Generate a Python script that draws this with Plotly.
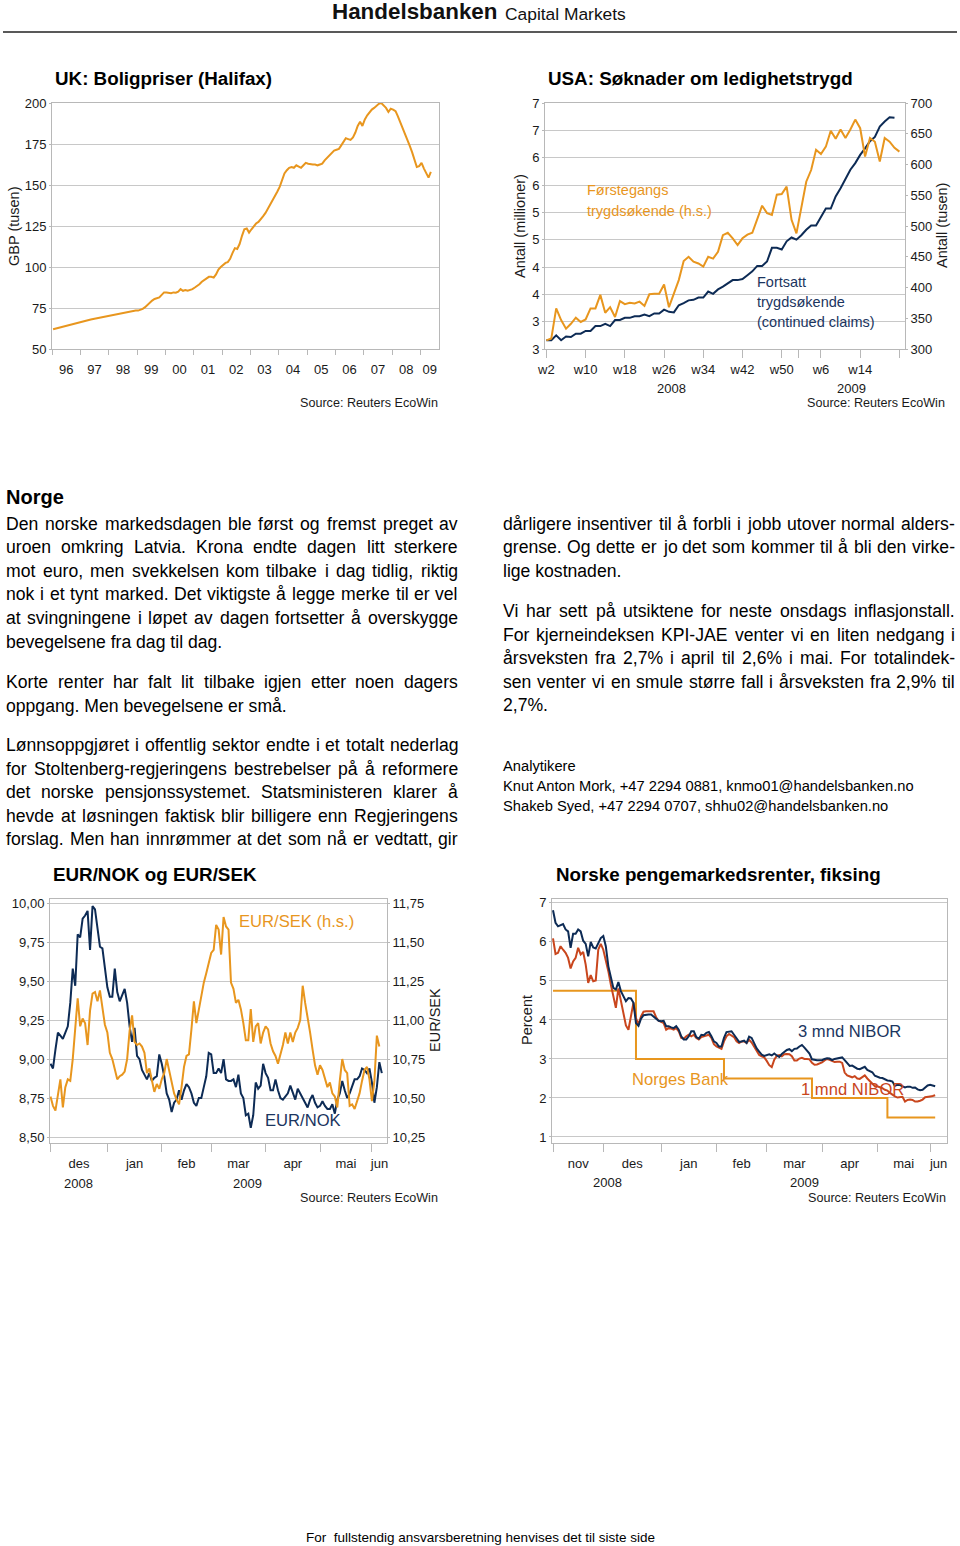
import pandas as pd
import plotly.graph_objects as go

W, H = 960, 1546

# ---------------- data ----------------
UK_FIRST_MONTH = "1996-01-01"
UK_PRICES = [
    62.0, 62.4, 62.8, 63.3, 63.7, 64.0, 64.3, 64.6, 65.0, 65.4, 65.9, 66.4,
    66.6, 66.9, 67.3, 67.7, 68.0, 68.3, 68.6, 68.8, 69.0, 69.2, 69.5, 69.8,
    70.0, 70.3, 70.6, 71.0, 71.4, 71.8, 72.1, 72.4, 72.7, 73.0, 73.2, 73.4,
    73.4, 73.8, 74.5, 75.5, 77.0, 78.5, 79.5, 80.5, 81.0, 81.5, 83.0, 84.5,
    84.5, 84.0, 84.0, 84.5, 84.3, 85.0, 86.5, 85.5, 86.0, 85.5, 86.0, 86.5,
    87.5, 88.5, 89.5, 91.0, 92.0, 93.0, 94.0, 94.0, 93.5, 95.5, 98.5, 100.0,
    101.5, 102.5, 103.0, 105.0, 108.5, 111.5, 111.0, 114.0, 119.0, 123.0, 123.5, 121.0,
    123.0, 125.0, 126.5, 127.5, 129.0, 131.0, 133.0, 135.5, 138.5, 141.0, 143.5, 146.0,
    149.0, 153.0, 157.0, 159.0, 160.5, 161.0, 160.5, 162.0, 161.0, 160.5, 162.0, 163.5,
    163.0, 162.5, 162.5, 162.5, 162.0, 162.5, 163.0, 165.0, 166.5, 167.5, 169.0, 171.0,
    171.5, 172.0, 174.0, 176.5, 178.5, 178.0, 177.5, 179.0, 182.0, 186.0, 188.5, 186.0,
    190.0, 192.5, 194.5, 196.0, 197.0, 198.5, 199.5, 200.0, 198.5, 197.0, 194.5, 196.5,
    196.0, 195.0, 192.0, 188.5, 185.0, 181.5, 178.0, 174.0, 170.0, 165.0, 161.0, 161.5,
    163.5, 160.0, 157.0, 154.5, 158.0,
]
UK_YEAR_LABELS = ["96", "97", "98", "99", "00", "01", "02", "03", "04", "05", "06", "07", "08", "09"]
UK_Y_TICKS = [50, 75, 100, 125, 150, 175, 200]

US_FIRST_WEEK = "2008-01-07"  # week 2, 2008
US_CONTINUED = [  # millions (left axis)
    2.66, 2.66, 2.75, 2.66, 2.73, 2.72, 2.78, 2.78, 2.83, 2.83,
    2.92, 2.92, 2.96, 2.92, 3.03, 3.03, 3.07, 3.07, 3.10, 3.10,
    3.13, 3.10, 3.15, 3.15, 3.22, 3.18, 3.17, 3.30, 3.34, 3.39,
    3.40, 3.44, 3.44, 3.55, 3.51, 3.59, 3.64, 3.70, 3.76, 3.76,
    3.78, 3.85, 3.92, 4.02, 4.02, 4.10, 4.35, 4.35, 4.32, 4.47,
    4.54, 4.50, 4.58, 4.68, 4.76, 4.76, 4.92, 5.07, 5.07, 5.29,
    5.44, 5.62, 5.78, 5.90, 6.05, 6.17, 6.30, 6.38, 6.57, 6.66,
    6.74, 6.73,
]
US_INITIAL = [  # thousands (right axis)
    314, 317, 366, 347, 333, 341, 351, 344, 348, 366,
    366, 388, 359, 368, 352, 378, 373, 375, 374, 377,
    370, 389, 390, 390, 405, 368, 390, 412, 443, 450,
    442, 439, 434, 450, 447, 458, 485, 489, 480, 469,
    480, 486, 489, 510, 533, 521, 518, 551, 552, 564,
    510, 488, 529, 572, 591, 624, 617, 629, 655, 642,
    657, 643, 657, 673, 659, 613, 643, 637, 605, 643,
    637, 627, 621,
]
US_WEEK_LABELS = ["w2", "w10", "w18", "w26", "w34", "w42", "w50", "w6", "w14"]
US_LEFT_TICKS = [2.5, 3.0, 3.5, 4.0, 4.5, 5.0, 5.5, 6.0, 6.5, 7.0]
US_LEFT_TICKTEXT = ["3", "3", "4", "4", "5", "5", "6", "6", "7", "7"]
US_RIGHT_TICKS = [300, 350, 400, 450, 500, 550, 600, 650, 700]

FX_FIRST_DAY = "2008-12-01"
EURNOK = [
    8.97, 8.94, 9.06, 9.17, 9.15, 9.13, 9.17, 9.21, 9.36, 9.58,
    9.47, 9.80, 9.78, 9.90, 9.92, 9.95, 9.70, 9.98, 9.96, 9.84,
    9.72, 9.71, 9.57, 9.46, 9.40, 9.40, 9.58, 9.43, 9.37, 9.41,
    9.45, 9.36, 9.21, 9.11, 9.20, 9.02, 9.00, 8.93, 8.90, 8.87,
    8.91, 8.86, 8.88, 8.89, 9.03, 8.97, 8.89, 8.78, 8.74, 8.66,
    8.72, 8.74, 8.80, 8.74, 8.80, 8.84, 8.82, 8.78, 8.72, 8.70,
    8.75, 8.75, 8.82, 8.89, 9.04, 9.03, 8.91, 8.91, 8.94, 8.91,
    9.00, 8.87, 8.86, 8.86, 8.87, 8.82, 8.90, 8.78, 8.75, 8.64,
    8.65, 8.56, 8.64, 8.85, 8.81, 8.83, 8.97, 8.91, 8.88, 8.80,
    8.80, 8.87, 8.80, 8.75, 8.74, 8.76, 8.78, 8.83, 8.78, 8.74,
    8.81, 8.78, 8.75, 8.71, 8.69, 8.74, 8.77, 8.72, 8.69, 8.70,
    8.73, 8.70, 8.68, 8.68, 8.71, 8.65, 8.74, 8.78, 8.86, 8.80,
    8.75, 8.78, 8.82, 8.87, 8.87, 8.89, 8.94, 8.93, 8.91, 8.94,
    8.85, 8.72, 8.82, 8.98, 8.91,
]
EURSEK = [
    10.51, 10.45, 10.42, 10.53, 10.62, 10.44, 10.57, 10.62, 10.61, 10.75,
    10.94, 11.14, 10.96, 11.01, 10.98, 10.84, 11.06, 11.17, 11.18, 11.12,
    11.19, 11.09, 10.97, 10.92, 10.79, 10.75, 10.68, 10.62, 10.64, 10.65,
    10.67, 10.75, 10.93, 11.03, 10.86, 10.84, 10.85, 10.83, 10.79, 10.66,
    10.69, 10.61, 10.54, 10.59, 10.56, 10.62, 10.66, 10.75, 10.68, 10.61,
    10.53, 10.49, 10.46, 10.57, 10.70, 10.77, 10.78, 10.94, 11.12, 10.98,
    11.07, 11.17, 11.24, 11.30, 11.37, 11.43, 11.45, 11.61, 11.58, 11.42,
    11.66, 11.60, 11.58, 11.24, 11.20, 11.11, 11.13, 11.07, 10.98, 10.87,
    10.87, 11.07, 10.86, 10.96, 10.98, 10.85, 10.92, 10.96, 10.94, 10.85,
    10.80, 10.77, 10.72, 10.78, 10.84, 10.92, 10.85, 10.92, 10.86, 10.92,
    10.95, 11.00, 11.22, 11.11, 11.02, 10.92, 10.81, 10.71, 10.65, 10.71,
    10.68, 10.62, 10.57, 10.60, 10.53, 10.51, 10.44, 10.61, 10.75, 10.68,
    10.66, 10.45, 10.46, 10.43, 10.48, 10.53, 10.61, 10.68, 10.70, 10.62,
    10.48, 10.61, 10.90, 10.83,
]
FX_MONTH_LABELS = ["des", "jan", "feb", "mar", "apr", "mai", "jun"]
FX_YEAR_LABELS = ["2008", "2009"]
EURNOK_TICKS = [8.50, 8.75, 9.00, 9.25, 9.50, 9.75, 10.00]
EURSEK_TICKS = [10.25, 10.50, 10.75, 11.00, 11.25, 11.50, 11.75]

NIBOR_FIRST_DAY = "2008-11-03"
NIBOR_3M = [
    6.81, 6.49, 6.40, 6.43, 6.46, 6.32, 6.27, 5.85, 6.21, 6.21,
    6.32, 6.27, 6.03, 5.95, 5.63, 6.00, 5.86, 5.83, 5.97, 6.10,
    6.15, 5.89, 5.38, 5.08, 4.82, 4.78, 4.97, 4.74, 4.61, 4.48,
    4.56, 4.55, 4.44, 3.92, 3.85, 4.03, 4.12, 4.14, 4.14, 4.14,
    4.09, 4.05, 3.98, 3.97, 3.98, 3.84, 3.84, 3.81, 3.79, 3.84,
    3.75, 3.58, 3.50, 3.50, 3.58, 3.71, 3.71, 3.56, 3.52, 3.62,
    3.61, 3.67, 3.69, 3.58, 3.45, 3.41, 3.32, 3.32, 3.54, 3.69,
    3.71, 3.71, 3.62, 3.52, 3.44, 3.45, 3.47, 3.41,
    3.57, 3.54, 3.40, 3.27, 3.19, 3.11, 3.08, 3.10, 3.12, 3.09,
    3.14, 3.09, 3.05, 3.13, 3.19, 3.23, 3.25, 3.20, 3.26, 3.27,
    3.32, 3.36, 3.29, 3.22, 3.14, 2.99, 2.97, 2.97, 2.97, 2.97,
    3.00, 3.02, 3.01, 2.97, 3.00, 3.02, 3.03, 3.04, 2.97, 2.88,
    2.82, 2.83, 2.79, 2.75, 2.74, 2.78, 2.80, 2.72, 2.68, 2.66,
    2.57, 2.54, 2.52, 2.51, 2.47, 2.45, 2.44, 2.42, 2.31, 2.34,
    2.33, 2.30, 2.27, 2.29, 2.29, 2.26, 2.27, 2.22, 2.20, 2.21,
    2.26, 2.32, 2.34, 2.32, 2.30,
]
NIBOR_1M = [
    6.09, 5.69, 5.72, 5.89, 5.80, 5.72, 5.59, 5.32, 5.50, 5.59,
    5.85, 5.68, 5.74, 5.42, 4.95, 5.15, 4.99, 5.01, 5.80, 5.95,
    5.80, 5.55, 5.25, 4.91, 4.65, 4.31, 4.81, 4.47, 4.14, 3.86,
    3.75, 4.14, 4.44, 4.05, 3.88, 4.09, 4.21, 4.22, 4.22, 4.22,
    4.22, 4.07, 3.98, 3.95, 3.92, 3.75, 3.79, 3.78, 3.75, 3.79,
    3.71, 3.54, 3.52, 3.58, 3.62, 3.58, 3.62, 3.54, 3.50, 3.56,
    3.58, 3.58, 3.62, 3.54, 3.38, 3.32, 3.28, 3.26, 3.45, 3.58,
    3.64, 3.61, 3.56, 3.45, 3.41, 3.45, 3.45, 3.41,
    3.49, 3.42, 3.32, 3.20, 3.10, 3.07, 3.04, 2.95, 2.84, 2.79,
    2.98, 3.08, 3.10, 3.07, 3.12, 3.13, 3.12, 3.07, 2.96, 2.96,
    3.01, 3.03, 3.00, 3.00, 2.99, 2.90, 2.85, 2.86, 2.88, 2.91,
    2.96, 3.00, 2.98, 2.94, 2.92, 2.93, 2.93, 2.90, 2.65, 2.58,
    2.55, 2.53, 2.56, 2.50, 2.49, 2.53, 2.58, 2.50, 2.43, 2.35,
    2.30, 2.30, 2.28, 2.25, 2.21, 2.19, 2.13, 2.08, 2.04, 2.01,
    2.03, 2.03, 1.91, 1.95, 1.96, 1.95, 1.91, 1.91, 1.93, 1.96,
    2.02, 2.04, 2.04, 2.05, 2.07,
]
POLICY_DATES = ["2008-11-03", "2008-12-18", "2009-02-05", "2009-03-26", "2009-05-07"]
POLICY_RATES = [4.75, 3.00, 2.50, 2.00, 1.50]
NIBOR_MONTH_LABELS = ["nov", "des", "jan", "feb", "mar", "apr", "mai", "jun"]
NIBOR_YEAR_LABELS = ["2008", "2009"]
NIBOR_TICKS = [1, 2, 3, 4, 5, 6, 7]

LEFT_PARAS = [
    ["Den norske markedsdagen ble først og fremst preget av",
     "uroen omkring Latvia. Krona endte dagen litt sterkere",
     "mot euro, men svekkelsen kom tilbake i dag tidlig, riktig",
     "nok i et tynt marked. Det viktigste å legge merke til er vel",
     "at svingningene i løpet av dagen fortsetter å overskygge",
     "bevegelsene fra dag til dag."],
    ["Korte renter har falt lit tilbake igjen etter noen dagers",
     "oppgang. Men bevegelsene er små."],
    ["Lønnsoppgjøret i offentlig sektor endte i et totalt nederlag",
     "for Stoltenberg-regjeringens bestrebelser på å reformere",
     "det norske pensjonssystemet. Statsministeren klarer å",
     "hevde at løsningen faktisk blir billigere enn Regjeringens",
     "forslag. Men han innrømmer at det som nå er vedtatt, gir"],
]
LEFT_LAST_JUSTIFIED = [False, False, True]
RIGHT_PARAS = [
    ["dårligere insentiver til å forbli i jobb utover normal alders-",
     "grense. Og dette er jo det som kommer til å bli den virke-",
     "lige kostnaden."],
    ["Vi har sett på utsiktene for neste onsdags inflasjonstall.",
     "For kjerneindeksen KPI-JAE venter vi en liten nedgang i",
     "årsveksten fra 2,7% i april til 2,6% i mai. For totalindek-",
     "sen venter vi en smule større fall i årsveksten fra 2,9% til",
     "2,7%."],
]
RIGHT_LAST_JUSTIFIED = [False, False]
ANALYSTS = ["Analytikere",
            "Knut Anton Mork, +47 2294 0881, knmo01@handelsbanken.no",
            "Shakeb Syed, +47 2294 0707, shhu02@handelsbanken.no"]

# ---------------- style ----------------
ORANGE = "#E8961E"
NAVY = "#0D2B55"
RED = "#C9461D"
GRID = "#C8C8C8"
FRAME = "#B8B8B8"
TXT = "#1A1A1A"
LBL_NAVY = "#1B3560"
SANS = "Liberation Sans, Arial, Helvetica, sans-serif"

# Arial / Liberation Sans advance widths (1/1000 em) for text justification
_AFM = {" ": 278, ",": 278, ".": 278, "-": 333, "%": 889, ":": 278, "(": 333, ")": 333,
        "/": 278, "+": 584, "@": 1015, "å": 556, "ø": 611, "æ": 889, "Å": 667, "Ø": 778,
        "Æ": 1000, "é": 556}
for _c, _w in zip("abcdefghijklmnopqrstuvwxyz",
                  [556, 556, 500, 556, 556, 278, 556, 556, 222, 222, 500, 222, 833, 556, 556,
                   556, 556, 333, 500, 278, 556, 500, 722, 500, 500, 500]):
    _AFM[_c] = _w
for _c, _w in zip("ABCDEFGHIJKLMNOPQRSTUVWXYZ",
                  [667, 667, 722, 722, 667, 611, 778, 722, 278, 500, 667, 556, 833, 722, 778,
                   667, 778, 722, 667, 611, 722, 667, 944, 667, 667, 611]):
    _AFM[_c] = _w
for _c in "0123456789":
    _AFM[_c] = 556


def tw(s, fs):
    return sum(_AFM.get(c, 556) for c in s) * fs / 1000.0


def X(p):
    return p / W


def Y(p):
    return 1 - p / H


def period_centers(bounds, r0, r1):
    res = []
    for k, b in enumerate(bounds):
        s = max(b, r0)
        e = min(bounds[k + 1], r1) if k + 1 < len(bounds) else r1
        res.append(s + (e - s) / 2)
    return res


def ds(ts):
    return [pd.Timestamp(t).strftime("%Y-%m-%d %H:%M") for t in ts]


fig = go.Figure()
ann = []


def text(x, y, s, size, color="#000000", xanchor="left", angle=0, xref="paper", yref="paper"):
    ann.append(dict(x=X(x) if xref == "paper" else x, y=Y(y) if yref == "paper" else y,
                    xref=xref, yref=yref, text=s, showarrow=False, borderpad=0, borderwidth=0,
                    xanchor=xanchor, yanchor="middle", textangle=angle,
                    font=dict(size=size, family=SANS, color=color)))


def body_line(x0, x1, y, line, fs, justify):
    words = line.split(" ")
    if not justify or len(words) < 2:
        text(x0, y, line, fs)
        return
    total = sum(tw(w, fs) for w in words)
    gap = (x1 - x0 - total) / (len(words) - 1)
    x = x0
    for i, w in enumerate(words):
        if i == len(words) - 1:
            text(x1, y, w, fs, xanchor="right")
        else:
            text(x, y, w, fs)
        x += tw(w, fs) + gap


tickfont = dict(family=SANS, size=13, color=TXT)

# ---------------- chart 1: UK ----------------
uk_x = pd.date_range(UK_FIRST_MONTH, periods=len(UK_PRICES), freq="MS") + pd.Timedelta(days=14)
uk_r0, uk_r1 = pd.Timestamp("1996-01-01"), pd.Timestamp("2009-08-28")
uk_year_starts = list(pd.date_range("1996-01-01", "2009-01-01", freq="YS"))
uk_lab = period_centers(uk_year_starts, uk_r0, uk_r1)
fig.add_trace(go.Scatter(x=uk_x, y=UK_PRICES, mode="lines", line=dict(color=ORANGE, width=2),
                         xaxis="x", yaxis="y"))

# ---------------- chart 2: USA ----------------
us0 = pd.Timestamp(US_FIRST_WEEK)
us_xc = pd.date_range(us0, periods=len(US_CONTINUED), freq="7D")
us_xi = pd.date_range(us0, periods=len(US_INITIAL), freq="7D")
us_r0, us_r1 = us0 - pd.Timedelta(days=2), us0 + pd.Timedelta(days=512)
us_lab = [us0 + pd.Timedelta(days=56 * k) for k in range(len(US_WEEK_LABELS))]
us_ticks = us_lab + [pd.Timestamp("2009-01-01"), us0 + pd.Timedelta(days=56 * len(US_WEEK_LABELS))]
us_year_lab = period_centers([pd.Timestamp("2008-01-01"), pd.Timestamp("2009-01-01")], us_r0, us_r1)
fig.add_trace(go.Scatter(x=us_xc, y=US_CONTINUED, mode="lines", line=dict(color=NAVY, width=2),
                         xaxis="x2", yaxis="y2"))
fig.add_trace(go.Scatter(x=us_xi, y=US_INITIAL, mode="lines", line=dict(color=ORANGE, width=2),
                         xaxis="x2", yaxis="y3"))

# ---------------- chart 3: EUR/NOK, EUR/SEK ----------------
fx_days = pd.bdate_range(FX_FIRST_DAY, periods=140)
fx_r0, fx_r1 = -0.2, 136.1
fx_mb = [i for i in range(len(fx_days)) if i == 0 or fx_days[i].month != fx_days[i - 1].month]
fx_mb = [b for b in fx_mb if b <= fx_r1]
fx_yb = [i for i in range(len(fx_days)) if i == 0 or fx_days[i].year != fx_days[i - 1].year]
fx_yb = [b for b in fx_yb if b <= fx_r1]
fx_lab = period_centers(fx_mb, fx_r0, fx_r1)
fx_ylab = period_centers(fx_yb, fx_r0, fx_r1)
fig.add_trace(go.Scatter(x=list(range(len(EURSEK))), y=EURSEK, mode="lines",
                         line=dict(color=ORANGE, width=2), xaxis="x3", yaxis="y5"))
fig.add_trace(go.Scatter(x=list(range(len(EURNOK))), y=EURNOK, mode="lines",
                         line=dict(color=NAVY, width=2), xaxis="x3", yaxis="y4"))

# ---------------- chart 4: NIBOR ----------------
nb_days = pd.bdate_range(NIBOR_FIRST_DAY, periods=160)
nb_r0, nb_r1 = -0.4, 156.7
nb_mb = [i for i in range(len(nb_days)) if i == 0 or nb_days[i].month != nb_days[i - 1].month]
nb_mb = [b for b in nb_mb if b <= nb_r1]
nb_yb = [i for i in range(len(nb_days)) if i == 0 or nb_days[i].year != nb_days[i - 1].year]
nb_yb = [b for b in nb_yb if b <= nb_r1]
nb_lab = period_centers(nb_mb, nb_r0, nb_r1)
nb_ylab = period_centers(nb_yb, nb_r0, nb_r1)
pol_x = [int(nb_days.get_loc(pd.Timestamp(d))) for d in POLICY_DATES] + [len(NIBOR_3M) - 1]
pol_y = POLICY_RATES + [POLICY_RATES[-1]]
fig.add_trace(go.Scatter(x=pol_x, y=pol_y, mode="lines", line=dict(color=ORANGE, width=2, shape="hv"),
                         xaxis="x4", yaxis="y6"))
fig.add_trace(go.Scatter(x=list(range(len(NIBOR_1M))), y=NIBOR_1M, mode="lines",
                         line=dict(color=RED, width=2), xaxis="x4", yaxis="y6"))
fig.add_trace(go.Scatter(x=list(range(len(NIBOR_3M))), y=NIBOR_3M, mode="lines",
                         line=dict(color=NAVY, width=2), xaxis="x4", yaxis="y6"))


def xaxis(dom, rng, labvals, labtext, tickvals, ticklen, anchor, date=False):
    d = dict(domain=[X(dom[0]), X(dom[1])], range=rng, anchor=anchor,
             tickmode="array", tickvals=labvals, ticktext=labtext, ticks="",
             showgrid=False, zeroline=False, showline=True, linecolor=FRAME, linewidth=1,
             mirror=True, tickfont=tickfont, ticklabelstandoff=8,
             minor=dict(tickmode="array", tickvals=tickvals, ticks="outside", ticklen=ticklen,
                        tickcolor=FRAME, tickwidth=1, showgrid=False))
    if date:
        d["type"] = "date"
    return d


def yaxis(dom, rng, tickvals, anchor, ticktext=None, side="left", grid=True, overlay=None, fmt=None):
    d = dict(domain=[Y(dom[1]), Y(dom[0])], range=rng, anchor=anchor, side=side,
             tickmode="array", tickvals=tickvals, showgrid=grid, gridcolor=GRID, gridwidth=1,
             zeroline=False, showline=True, linecolor=FRAME, linewidth=1,
             mirror=(overlay is None), ticks="outside", ticklen=2, tickcolor=FRAME,
             tickfont=tickfont)
    if ticktext is not None:
        d["ticktext"] = ticktext
    if overlay:
        d["overlaying"] = overlay
    if fmt:
        d["tickformat"] = fmt
    return d


layout_axes = dict(
    xaxis=xaxis((52, 439), ds([uk_r0, uk_r1]), ds(uk_lab), UK_YEAR_LABELS, ds(uk_year_starts), 5, "y", date=True),
    yaxis=yaxis((103, 349), [50, 200], UK_Y_TICKS, "x"),
    xaxis2=xaxis((545, 905), ds([us_r0, us_r1]), ds(us_lab), US_WEEK_LABELS, ds(us_ticks), 8, "y2", date=True),
    yaxis2=yaxis((103, 349), [2.5, 7.0], US_LEFT_TICKS, "x2", ticktext=US_LEFT_TICKTEXT),
    yaxis3=yaxis((103, 349), [300, 700], US_RIGHT_TICKS, "x2", side="right", grid=False, overlay="y2"),
    xaxis3=xaxis((50, 387), [fx_r0, fx_r1], fx_lab, FX_MONTH_LABELS, fx_mb, 8, "y4"),
    yaxis4=yaxis((899, 1143), [8.462, 10.026], EURNOK_TICKS, "x3", fmt=".2f"),
    yaxis5=yaxis((899, 1143), [10.212, 11.776], EURSEK_TICKS, "x3", side="right", grid=False,
                 overlay="y4", fmt=".2f"),
    xaxis4=xaxis((552, 947), [nb_r0, nb_r1], nb_lab, NIBOR_MONTH_LABELS, nb_mb, 8, "y6"),
    yaxis6=yaxis((899, 1143), [0.846, 7.10], NIBOR_TICKS, "x4"),
)

# ---------------- texts ----------------
text(498, 12, "<b>Handelsbanken</b>", 22.4, "#111111", xanchor="right")
text(505, 13.5, "Capital Markets", 17.4, "#111111")

# chart titles
text(55, 78, "<b>UK: Boligpriser (Halifax)</b>", 18.8)
text(548, 78, "<b>USA: Søknader om ledighetstrygd</b>", 18.8)
text(53, 874, "<b>EUR/NOK og EUR/SEK</b>", 18.8)
text(556, 874, "<b>Norske pengemarkedsrenter, fiksing</b>", 18.8)

# axis titles
text(14, 226, "GBP (tusen)", 14.5, TXT, xanchor="center", angle=-90)
text(520, 226, "Antall (millioner)", 14.5, TXT, xanchor="center", angle=-90)
text(942, 226, "Antall (tusen)", 14.5, TXT, xanchor="center", angle=-90)
text(435, 1020, "EUR/SEK", 14.5, TXT, xanchor="center", angle=-90)
text(527, 1020, "Percent", 14.5, TXT, xanchor="center", angle=-90)

# year labels on time axes
for v, s in zip(us_year_lab, ["2008", "2009"]):
    text(ds([v])[0], 388, s, 13, TXT, xanchor="center", xref="x2")
for v, s in zip(fx_ylab, FX_YEAR_LABELS):
    text(v, 1183, s, 13, TXT, xanchor="center", xref="x3")
for v, s in zip(nb_ylab, NIBOR_YEAR_LABELS):
    text(v, 1182, s, 13, TXT, xanchor="center", xref="x4")

# sources
text(438, 403, "Source: Reuters EcoWin", 12.6, TXT, xanchor="right")
text(945, 403, "Source: Reuters EcoWin", 12.6, TXT, xanchor="right")
text(438, 1198, "Source: Reuters EcoWin", 12.6, TXT, xanchor="right")
text(946, 1198, "Source: Reuters EcoWin", 12.6, TXT, xanchor="right")

# in-chart labels
text(587, 190, "Førstegangs", 14.5, ORANGE)
text(587, 211, "trygdsøkende (h.s.)", 14.5, ORANGE)
text(757, 282, "Fortsatt", 14.5, LBL_NAVY)
text(757, 302, "trygdsøkende", 14.5, LBL_NAVY)
text(757, 322, "(continued claims)", 14.5, LBL_NAVY)
text(239, 921, "EUR/SEK (h.s.)", 16.6, ORANGE)
text(265, 1120, "EUR/NOK", 16.6, LBL_NAVY)
text(798, 1031, "3 mnd NIBOR", 16.6, LBL_NAVY)
text(632, 1079, "Norges Bank", 16.6, ORANGE)
text(801, 1089, "1 mnd NIBOR", 16.6, RED)

# body text
FS = 17.6
LINE = 23.6
text(6, 497, "<b>Norge</b>", 20)
for start, para, lastj in zip([523.5, 682, 745], LEFT_PARAS, LEFT_LAST_JUSTIFIED):
    for k, line in enumerate(para):
        j = (k < len(para) - 1) or lastj
        body_line(6, 458, start + k * LINE, line, FS, j)
for start, para, lastj in zip([523.5, 611], RIGHT_PARAS, RIGHT_LAST_JUSTIFIED):
    for k, line in enumerate(para):
        j = (k < len(para) - 1) or lastj
        body_line(503, 955, start + k * LINE, line, FS, j)
for k, line in enumerate(ANALYSTS):
    text(503, 766 + k * 20, line, 14.7)

text(480, 1537, "For\u00a0 fullstendig ansvarsberetning henvises det til siste side", 13.5,
     xanchor="center")

fig.update_layout(
    width=W, height=H, margin=dict(l=0, r=0, t=0, b=0, autoexpand=False),
    paper_bgcolor="white", plot_bgcolor="white", showlegend=False,
    separators=", ", annotations=ann, hovermode=False,
    shapes=[dict(type="line", xref="paper", yref="paper", x0=X(3), x1=X(957), y0=Y(32), y1=Y(32),
                 line=dict(color="#222222", width=1.5))],
    **layout_axes,
)

fig.write_html("out.html", config={"displayModeBar": False},
               post_script="document.body.style.margin='0px';document.body.style.overflow='hidden';")
